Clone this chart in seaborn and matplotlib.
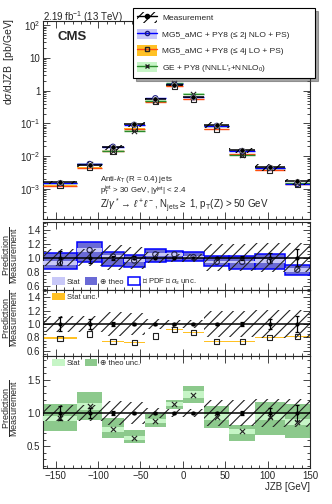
import matplotlib
matplotlib.use("Agg")
import matplotlib.pyplot as plt
import seaborn as sns
import pandas as pd
import numpy as np
from matplotlib.patches import Patch
from matplotlib.lines import Line2D
from matplotlib.ticker import MultipleLocator, FixedLocator, FixedFormatter, LogLocator, NullFormatter

# JZB binning (GeV)
edges = [-165, -125, -95, -70, -45, -20, 0, 25, 55, 85, 120, 150]
centers = [-145, -110, -82.5, -57.5, -32.5, -10, 12.5, 40, 70, 102.5, 135]

# measurement (pb/GeV) and relative uncertainties
meas = [1.6e-3, 5.2e-3, 0.019, 0.095, 0.56, 1.5, 0.62, 0.09, 0.0153, 0.0046, 0.0017]
meas_tot = [0.12, 0.12, 0.18, 0.16, 0.08, 0.06, 0.06, 0.19, 0.19, 0.21, 0.21]
meas_stat = [0.10, 0.08, 0.03, 0.02, 0.01, 0.01, 0.01, 0.015, 0.03, 0.07, 0.12]

# MG5_aMC NLO / measurement
nlo_ratio = [0.93, 1.11, 1.02, 0.96, 1.05, 1.05, 1.01, 0.94, 0.94, 0.95, 0.83]
nlo_hi = [1.07, 1.23, 1.08, 1.04, 1.12, 1.10, 1.08, 1.02, 1.02, 1.06, 0.90]
nlo_lo = [0.84, 0.94, 0.88, 0.87, 0.94, 0.95, 0.95, 0.88, 0.84, 0.84, 0.75]
nlo_stat = [0.03, 0.03, 0.02, 0.02, 0.02, 0.02, 0.02, 0.02, 0.02, 0.03, 0.03]

# MG5_aMC LO / measurement
lo_ratio = [0.785, 0.85, 0.735, 0.725, 0.82, 0.92, 0.87, 0.735, 0.735, 0.80, 0.81]
lo_stat = [0.016, 0.006, 0.004, 0.004, 0.004, 0.004, 0.004, 0.004, 0.004, 0.01, 0.012]

# GE / measurement
ge_ratio = [0.92, 1.10, 0.755, 0.63, 0.88, 1.13, 1.275, 0.94, 0.725, 0.94, 0.865]
ge_hi = [1.14, 1.31, 0.925, 0.74, 0.99, 1.20, 1.40, 1.10, 0.825, 1.165, 1.13]
ge_lo = [0.73, 0.90, 0.625, 0.54, 0.79, 1.065, 1.155, 0.78, 0.575, 0.675, 0.63]
ge_stat = [0.04, 0.05, 0.04, 0.03, 0.03, 0.03, 0.05, 0.04, 0.04, 0.05, 0.05]

main_ticks = [1e-3, 1e-2, 1e-1, 1, 10, 100]
main_ticklabels = [r'$10^{-3}$', r'$10^{-2}$', r'$10^{-1}$', '1', '10', r'$10^{2}$']

sns.set_style("ticks")
plt.rcParams['font.family'] = ['Liberation Sans', 'DejaVu Sans']
plt.rcParams['mathtext.fontset'] = 'custom'
plt.rcParams['mathtext.rm'] = 'Liberation Sans'
plt.rcParams['mathtext.it'] = 'Liberation Sans:italic'
plt.rcParams['mathtext.bf'] = 'Liberation Sans:bold'
plt.rcParams['hatch.linewidth'] = 0.8
plt.rcParams['axes.linewidth'] = 0.8

df = pd.DataFrame({'x': centers, 'meas': meas, 'tot': meas_tot, 'stat': meas_stat,
                   'nlo': nlo_ratio, 'lo': lo_ratio, 'ge': ge_ratio})
lo_e = np.array(edges[:-1]); hi_e = np.array(edges[1:])
widths = hi_e - lo_e
m = np.array(meas)
df['p_nlo'] = m * np.array(nlo_ratio)
df['p_lo'] = m * np.array(lo_ratio)
df['p_ge'] = m * np.array(ge_ratio)
df['one'] = 1.0

c_blue, c_blue_stat, c_blue_theo = '#0000ff', '#c8c8f8', '#6a6ad6'
c_orange_line, c_orange = '#ff4a10', '#ffc125'
c_green, c_green_stat, c_green_theo = '#2a8a2a', '#c6f5c6', '#8cc98c'
HATCH = '///'

fig = plt.figure(figsize=(3.32, 5.04), dpi=100)
L, W = 43 / 332, 267 / 332
def fy(px):
    return 1 - px / 504
ax0 = fig.add_axes([L, fy(219), W, (219 - 21) / 504])
ax1 = fig.add_axes([L, fy(290), W, (290 - 222) / 504])
ax2 = fig.add_axes([L, fy(356), W, (356 - 290) / 504])
ax3 = fig.add_axes([L, fy(468), W, (468 - 356) / 504])

# ---- main panel
ax0.set_yscale('log')
for col, line_c, band_c in [('p_lo', c_orange_line, c_orange), ('p_ge', c_green, c_green_stat),
                            ('p_nlo', c_blue, c_blue_stat)]:
    p = df[col].values
    ax0.bar(centers, p * 0.1, bottom=p * 0.95, width=widths, color=band_c, lw=0, zorder=2)
    ax0.hlines(p, lo_e, hi_e, color=line_c, lw=1.0, zorder=3)
ax0.bar(centers, m * 2 * np.array(meas_tot), bottom=m * (1 - np.array(meas_tot)), width=widths,
        fill=False, hatch=HATCH, edgecolor='k', lw=0, zorder=4)
ax0.hlines(m, lo_e, hi_e, color='k', lw=1.1, zorder=5)
sns.scatterplot(data=df, x='x', y='p_nlo', marker='o', s=14, facecolors='none',
                edgecolors='#1a1a80', linewidth=0.8, ax=ax0, zorder=6)
sns.scatterplot(data=df, x='x', y='p_lo', marker='s', s=14, facecolors='none',
                edgecolors='#222222', linewidth=0.8, ax=ax0, zorder=6)
sns.scatterplot(data=df, x='x', y='p_ge', marker='x', s=14, color='#222222',
                linewidth=0.8, ax=ax0, zorder=6)
sns.scatterplot(data=df, x='x', y='meas', marker='o', s=14, color='k', ax=ax0, zorder=7)
ax0.set_ylim(1.2e-4, 135)
ax0.yaxis.set_major_locator(FixedLocator(main_ticks))
ax0.yaxis.set_major_formatter(FixedFormatter(main_ticklabels))
ax0.yaxis.set_minor_locator(LogLocator(base=10, subs=range(2, 10), numticks=20))
ax0.yaxis.set_minor_formatter(NullFormatter())

# ---- ratio panel 1 (NLO)
ax1.bar(centers, np.array(nlo_hi) - np.array(nlo_lo), bottom=nlo_lo, width=widths,
        color=c_blue_theo, edgecolor=c_blue, lw=1.1, zorder=2)
ax1.bar(centers, 2 * np.array(nlo_stat), bottom=np.array(nlo_ratio) - np.array(nlo_stat),
        width=widths, color=c_blue_stat, lw=0, zorder=3)
sns.scatterplot(data=df, x='x', y='nlo', marker='o', s=14, facecolors='none',
                edgecolors='#222244', linewidth=0.8, ax=ax1, zorder=7)
ax1.set_ylim(0.54, 1.51)
ax1.yaxis.set_major_locator(MultipleLocator(0.2))
ax1.yaxis.set_minor_locator(MultipleLocator(0.05))
ax1.legend([Patch(fc=c_blue_stat, ec='none'), Patch(fc=c_blue_theo, ec='none'),
            Patch(fc='white', ec=c_blue, lw=1.1)],
           ['Stat', '⊕ theo', r'⊕ PDF ⊕ $\alpha_s$ unc.'], loc='center left',
           bbox_to_anchor=(0.035, 0.12), ncol=3, frameon=False, fontsize=5.5,
           handlelength=1.6, handleheight=1.1, handletextpad=0.3, columnspacing=0.6,
           borderpad=0, borderaxespad=0)

# ---- ratio panel 2 (LO)
ax2.bar(centers, 2 * np.array(lo_stat), bottom=np.array(lo_ratio) - np.array(lo_stat),
        width=widths, color=c_orange, lw=0, zorder=2)
sns.scatterplot(data=df, x='x', y='lo', marker='s', s=14, facecolors='none',
                edgecolors='#222222', linewidth=0.8, ax=ax2, zorder=7)
ax2.set_ylim(0.52, 1.51)
ax2.yaxis.set_major_locator(MultipleLocator(0.2))
ax2.yaxis.set_minor_locator(MultipleLocator(0.05))
ax2.legend([Patch(fc=c_orange, ec='none')], ['Stat unc.'], loc='center left',
           bbox_to_anchor=(0.035, 0.89), frameon=False, fontsize=5.5,
           handlelength=1.6, handleheight=1.1, handletextpad=0.3,
           borderpad=0, borderaxespad=0)

# ---- ratio panel 3 (GE)
ax3.bar(centers, np.array(ge_hi) - np.array(ge_lo), bottom=ge_lo, width=widths,
        color=c_green_theo, lw=0, zorder=2)
ax3.bar(centers, 2 * np.array(ge_stat), bottom=np.array(ge_ratio) - np.array(ge_stat),
        width=widths, color=c_green_stat, lw=0, zorder=3)
sns.scatterplot(data=df, x='x', y='ge', marker='x', s=14, color='#222222',
                linewidth=0.8, ax=ax3, zorder=7)
ax3.set_ylim(0.17, 1.86)
ax3.yaxis.set_major_locator(MultipleLocator(0.5))
ax3.yaxis.set_minor_locator(MultipleLocator(0.1))
ax3.legend([Patch(fc=c_green_stat, ec='none'), Patch(fc=c_green_theo, ec='none')],
           ['Stat', '⊕ theo unc.'], loc='center left',
           bbox_to_anchor=(0.035, 0.94), ncol=2, frameon=False, fontsize=5.5,
           handlelength=1.6, handleheight=1.1, handletextpad=0.3, columnspacing=0.6,
           borderpad=0, borderaxespad=0)

# measurement band + stat error bars in ratio panels
for ax in (ax1, ax2, ax3):
    ax.bar(centers, 2 * np.array(meas_tot), bottom=1 - np.array(meas_tot), width=widths,
           fill=False, hatch=HATCH, edgecolor='#222222', lw=0, zorder=4)
    ax.axhline(1, color='k', lw=1.1, zorder=5)
    ax.errorbar(centers, df['one'], yerr=meas_stat, fmt='o', ms=2, color='k',
                lw=0.9, capsize=1.2, capthick=0.9, zorder=6)

for ax in (ax0, ax1, ax2, ax3):
    ax.set_xlim(-165, 150)
    ax.xaxis.set_major_locator(MultipleLocator(50))
    ax.xaxis.set_minor_locator(MultipleLocator(10))
    ax.tick_params(which='both', direction='in', top=True, right=True, width=0.6,
                   labelsize=7, pad=2)
    ax.tick_params(which='major', length=5)
    ax.tick_params(which='minor', length=2.5)
    ax.set_xlabel('')
    ax.set_ylabel('')
    if ax is not ax3:
        ax.tick_params(labelbottom=False)
    for s in ax.spines.values():
        s.set_linewidth(0.8)

ax3.set_xlabel('JZB [GeV]', fontsize=7, loc='right', labelpad=1)

# legend of the main panel
handles = [
    (Patch(fc='white', hatch=HATCH, ec='k', lw=0), Line2D([], [], color='k', marker='o', ms=3, lw=1)),
    (Patch(fc=c_blue_stat, ec='none'), Line2D([], [], color=c_blue, marker='o', mfc='none',
                                               mec='#1a1a80', ms=3, lw=1)),
    (Patch(fc=c_orange, ec='none'), Line2D([], [], color=c_orange_line, marker='s', mfc='none',
                                            mec='#222222', ms=3, lw=1)),
    (Patch(fc=c_green_stat, ec='none'), Line2D([], [], color=c_green, marker='x',
                                                mec='#222222', ms=3, lw=1)),
]
labels = ['Measurement', 'MG5_aMC + PY8 (≤ 2j NLO + PS)', 'MG5_aMC + PY8 (≤ 4j LO + PS)',
          r"GE + PY8 (NNLL'$_\tau$+NNLO$_0$)"]
leg = fig.legend(handles, labels, loc='upper left',
                 bbox_to_anchor=(129 / 332, fy(81), 190 / 332, 77 / 504), mode='expand',
                 fontsize=6, handlelength=2.4, handleheight=1.56, labelspacing=0.72,
                 handletextpad=0.6, borderpad=0.5, fancybox=False, shadow=True,
                 framealpha=1, edgecolor='k')
leg.get_frame().set_linewidth(0.8)

# texts
fig.text(43 / 332, fy(17), r'2.19 fb$^{-1}$ (13 TeV)', fontsize=7, ha='left', va='center')
fig.text(57 / 332, fy(37), 'CMS', fontsize=9.5, fontweight='bold', ha='left', va='center')
fig.text(9 / 332, fy(18), r'd$\sigma$/dJZB  [pb/GeV]', fontsize=7.5, rotation=90,
         ha='center', va='top')
fig.text(100 / 332, fy(179), r'Anti-$k_\mathrm{T}$ (R = 0.4) jets', fontsize=5.7,
         ha='left', va='center')
fig.text(100 / 332, fy(191), r'p$_\mathrm{T}^\mathrm{jet}$ > 30 GeV, |y$^\mathrm{jet}$| < 2.4',
         fontsize=5.7, ha='left', va='center')
fig.text(100 / 332, fy(206),
         r'Z/$\gamma^*\rightarrow\,\ell^+\ell^-$, N$_\mathrm{jets}\geq$ 1, p$_\mathrm{T}$(Z) > 50 GeV',
         fontsize=7, ha='left', va='center')
for ypx in (255, 318, 408):
    fig.text(10 / 332, fy(ypx), r'$\dfrac{\mathrm{Prediction}}{\mathrm{Measurement}}$',
             fontsize=6.5, rotation=90, ha='center', va='center')

fig.savefig('out.png', dpi=100)
